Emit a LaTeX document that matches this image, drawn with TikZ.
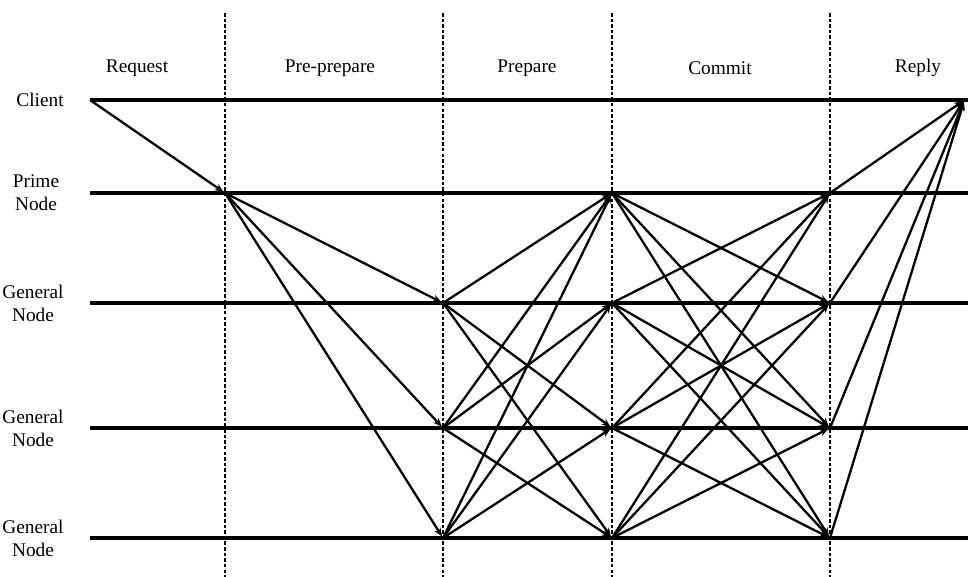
\documentclass[tikz,border=0pt]{standalone}
\usepackage{fontspec}
\setmainfont{Liberation Serif}
\usetikzlibrary{arrows.meta}
\tikzset{
  phase/.style={font=\fontsize{11}{13}\selectfont},
  role/.style={font=\fontsize{11}{13}\selectfont, align=center, inner sep=0pt},
  timeline/.style={line width=2.4pt},
  divider/.style={line width=0.8pt, dash pattern=on 2pt off 1.2pt},
  msg/.style={line width=1.3pt, -{Stealth[length=5pt,width=4pt]}, shorten >=1pt},
}
\begin{document}
\begin{tikzpicture}[x=0.02cm,y=-0.02cm]
\useasboundingbox (0,0) rectangle (968,577);
% phase borders
\foreach \col/\xx in {a/225,b/443,c/612,d/830}
  \draw[divider] (\xx,13) -- (\xx,577);
% phase names
\node[phase] (request) at (137,68) {Request};
\node[phase] (preprep) at (330,68) {Pre-prepare};
\node[phase] (prepare) at (527,68) {Prepare};
\node[phase] (commit) at (720,68) {Commit};
\node[phase] (reply) at (918,68) {Reply};
% replicas
\node[role] (client) at (40,100) {Client};
\node[role] (prime) at (36,193) {Prime\\Node};
\node[role] (gen1) at (33,303) {General\\Node};
\node[role] (gen2) at (33,428) {General\\Node};
\node[role] (gen3) at (33,538) {General\\Node};
\coordinate (cs) at (90,100); \coordinate (ce) at (968,100);
\foreach \r/\yy in {p/193,g1/303,g2/428,g3/538} {
  \coordinate (\r s) at (90,\yy);
  \coordinate (\r a) at (225,\yy);
  \coordinate (\r b) at (443,\yy);
  \coordinate (\r c) at (612,\yy);
  \coordinate (\r d) at (830,\yy);
  \coordinate (\r e) at (968,\yy);
}
\foreach \r in {c,p,g1,g2,g3}
  \draw[timeline] (\r s) -- (\r e);
% request
\draw[msg] (cs) -- (pa);
% pre-prepare
\foreach \t in {g1,g2,g3}
  \draw[msg] (pa) -- (\t b);
% prepare
\foreach \s/\t in {g1/p,g1/g2,g1/g3,g2/p,g2/g1,g2/g3,g3/p,g3/g1,g3/g2}
  \draw[msg] (\s b) -- (\t c);
% commit
\foreach \s/\t in {p/g1,p/g2,p/g3,g1/p,g1/g2,g1/g3,g2/p,g2/g1,g2/g3,g3/p,g3/g1,g3/g2}
  \draw[msg] (\s c) -- (\t d);
% reply
\foreach \s in {p,g1,g2,g3}
  \draw[msg] (\s d) -- ([xshift=-2]ce);
\end{tikzpicture}
\end{document}
